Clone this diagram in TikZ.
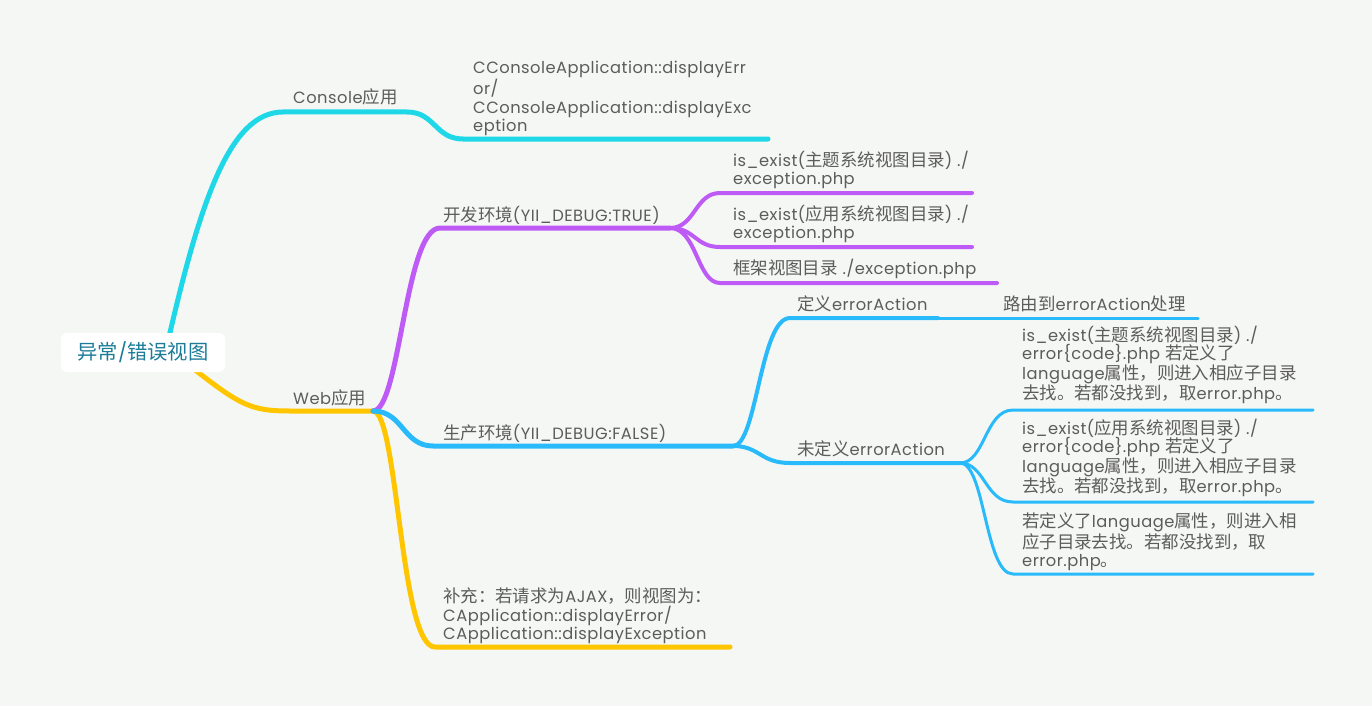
\documentclass[tikz,border=0pt]{standalone}
\usepackage{fontspec}
\setmainfont{Poppins}[LetterSpace=3]
\newfontfamily\cjk{Noto Sans CJK SC}[Scale=1.07]
\newcommand\zh[1]{{\cjk #1}}
\definecolor{bg}{RGB}{245,247,244}
\definecolor{cy}{RGB}{30,216,232}
\definecolor{pu}{RGB}{190,90,245}
\definecolor{bl}{RGB}{40,186,250}
\definecolor{ye}{RGB}{255,198,0}
\definecolor{txtgray}{RGB}{92,92,92}
\definecolor{roottxt}{RGB}{28,124,152}
\begin{document}
\begin{tikzpicture}[x=1pt,y=-1pt,
  txt/.style={anchor=south west, inner sep=0pt, text depth=0pt, align=left, text=txtgray, font={\fontsize{16.3}{18.7}\selectfont}},
  br/.style={line cap=round, line join=round},
  w5/.style={br, line width=5pt},
  w4/.style={br, line width=4pt},
  w3/.style={br, line width=3pt}]
\useasboundingbox (0,0) rectangle (1372,706);
\fill[bg] (0,0) rectangle (1372,706);

% coordinates
\coordinate (cS) at (166,350);
\coordinate (cL) at (283,112);
\coordinate (cR) at (407,112);
\coordinate (ccS) at (463,139);
\coordinate (ccE) at (768,139);
\coordinate (yS) at (190,366);
\coordinate (wL) at (290,411);
\coordinate (wJ) at (373,411);
\coordinate (pL) at (440,228);
\coordinate (pJ) at (670,228);
\coordinate (p1L) at (720,193);
\coordinate (p1R) at (972,193);
\coordinate (p2L) at (720,247);
\coordinate (p2R) at (972,247);
\coordinate (p3L) at (720,283);
\coordinate (p3R) at (997,283);
\coordinate (bL) at (433,446);
\coordinate (bJ) at (733,446);
\coordinate (dL) at (790,318);
\coordinate (dR) at (938,318);
\coordinate (rR) at (1198,318);
\coordinate (uL) at (790,463);
\coordinate (uJ) at (960,463);
\coordinate (aL) at (1013,410);
\coordinate (aR) at (1313,410);
\coordinate (bbL) at (1013,502);
\coordinate (bbR) at (1313,502);
\coordinate (ccL) at (1013,574);
\coordinate (ccR) at (1313,574);
\coordinate (yL) at (435,647);
\coordinate (yR) at (730,647);

% cyan
\draw[cy, w5] (cS) .. controls (200,200) and (230,112) .. (cL) -- (cR)
  .. controls (435,112) and (435,139) .. (ccS) -- (ccE);
% yellow
\draw[ye, w5] (yS) .. controls (240,405) and (250,411) .. (wL) -- (wJ);
\draw[ye, w5] (wJ) .. controls (398,411) and (400,647) .. (yL) -- (yR);
% purple
\draw[pu, w5] (wJ) .. controls (400,411) and (405,228) .. (pL) -- (pJ);
\draw[pu, w4] (pJ) .. controls (695,228) and (695,193) .. (p1L) -- (p1R);
\draw[pu, w4] (pJ) .. controls (695,228) and (695,247) .. (p2L) -- (p2R);
\draw[pu, w4] (pJ) .. controls (697,228) and (697,283) .. (p3L) -- (p3R);
% blue
\draw[bl, w5] (wJ) .. controls (403,411) and (403,446) .. (bL) -- (bJ);
\draw[bl, w4] (bJ) .. controls (757,446) and (760,318) .. (dL) -- (dR);
\draw[bl, w3] (dR) -- (rR);
\draw[bl, w4] (bJ) .. controls (760,446) and (760,463) .. (uL) -- (uJ);
\draw[bl, w3] (uJ) .. controls (985,463) and (985,410) .. (aL) -- (aR);
\draw[bl, w3] (uJ) .. controls (985,463) and (985,502) .. (bbL) -- (bbR);
\draw[bl, w3] (uJ) .. controls (985,463) and (985,574) .. (ccL) -- (ccR);

% root
\node[fill=white, rounded corners=6pt, minimum width=164pt, minimum height=39pt, inner sep=0pt,
  text=roottxt, font={\fontsize{19}{24}\selectfont}] (root) at (143,352.5) {\zh{异常}/\zh{错误视图}};

% texts
\node[txt] (console) at (293,104) {Console\zh{应用}};
\node[txt] (cca) at (473,132) {CConsoleApplication::displayErr\\or/\\CConsoleApplication::displayExc\\eption};
\node[txt] (web) at (293,405) {Web\zh{应用}};
\node[txt] (dev) at (443,222) {\zh{开发环境}(YII\_DEBUG:TRUE)};
\node[txt] (dev1) at (733,185) {is\_exist(\zh{主题系统视图目录}) ./\\exception.php};
\node[txt] (dev2) at (733,239) {is\_exist(\zh{应用系统视图目录}) ./\\exception.php};
\node[txt] (dev3) at (733,275) {\zh{框架视图目录} ./exception.php};
\node[txt] (prod) at (443,440) {\zh{生产环境}(YII\_DEBUG:FALSE)};
\node[txt] (def) at (797,311) {\zh{定义}errorAction};
\node[txt] (route) at (1003,311) {\zh{路由到}errorAction\zh{处理}};
\node[txt] (undef) at (797,456) {\zh{未定义}errorAction};
\node[txt] (blkA) at (1022,400) {is\_exist(\zh{主题系统视图目录}) ./\\error\{code\}.php \zh{若定义了}\\language\zh{属性，则进入相应子目录}\\\zh{去找。若都没找到，取}error.php\zh{。}};
\node[txt] (blkB) at (1022,493) {is\_exist(\zh{应用系统视图目录}) ./\\error\{code\}.php \zh{若定义了}\\language\zh{属性，则进入相应子目录}\\\zh{去找。若都没找到，取}error.php\zh{。}};
\node[txt] (blkC) at (1022,567) {\zh{若定义了}language\zh{属性，则进入相}\\\zh{应子目录去找。若都没找到，取}\\error.php\zh{。}};
\node[txt] (ajax) at (443,640) {\zh{补充：若请求为}AJAX\zh{，则视图为：}\\CApplication::displayError/\\CApplication::displayException};
\end{tikzpicture}
\end{document}
